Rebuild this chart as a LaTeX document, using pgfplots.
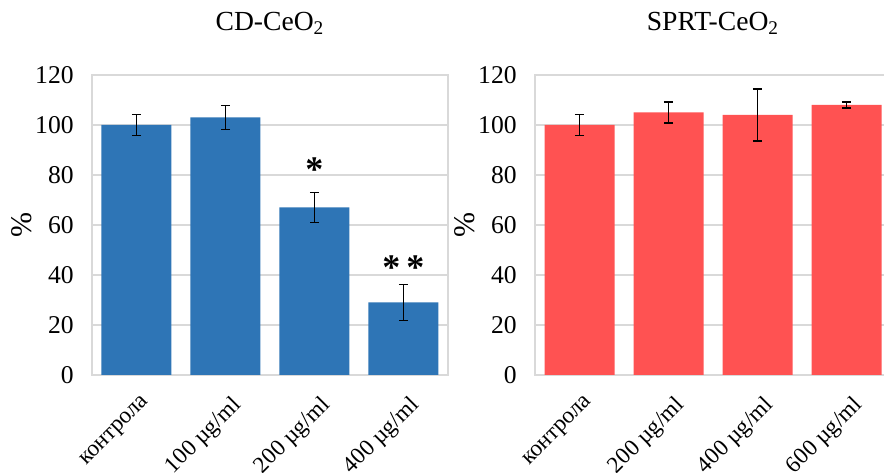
\documentclass[border=0pt]{standalone}
\usepackage{pgfplots}
\pgfplotsset{compat=1.18}
\usepackage{fontspec}
\setmainfont{Liberation Serif}
\definecolor{barblue}{RGB}{46,117,182}
\definecolor{barred}{RGB}{255,82,82}
\definecolor{gridgray}{RGB}{217,217,217}
\pgfplotsset{
  myaxis/.style={
    scale only axis,
    width=178bp, height=150bp,
    anchor=south west,
    ymin=0, ymax=120, ytick={0,20,...,120},
    xmin=-0.5, xmax=3.5,
    xtick={0,1,2,3},
    major tick length=0pt,
    ymajorgrids,
    grid style={draw=gridgray, line width=0.6bp},
    axis line style={draw=gridgray, line width=0.6bp},
    /pgf/number format/assume math mode=true,
    yticklabel={\pgfmathprintnumber[assume math mode=true]{\tick}},
    yticklabel style={font=\rmfamily\fontsize{12.8bp}{14bp}\selectfont, inner sep=0pt, xshift=-9bp},
    xticklabel style={font=\rmfamily\fontsize{11.6bp}{13bp}\selectfont, inner sep=0pt, xshift=2.5bp, yshift=-9.5bp, rotate=45, anchor=north east},
    ylabel={\%},
    ylabel style={at={(axis description cs:-0.197,0.5)}, anchor=center, font=\fontsize{15bp}{17bp}\selectfont},
    title style={at={(0.5,1)}, anchor=base, yshift=16.5bp, font=\fontsize{13.8bp}{16bp}\selectfont},
    ybar, bar width=35bp,
    error bars/error bar style={line width=0.7bp, black},
    error bars/error mark options={rotate=90, mark size=2.3bp, line width=0.7bp, black},
  }
}
\begin{document}
\begin{tikzpicture}
\useasboundingbox (0,0) rectangle (442bp,236.5bp);
\begin{axis}[myaxis, at={(46bp,49bp)},
  title={CD-CeO\textsubscript{2}},
  xticklabels={контрола,100 µg/ml,200 µg/ml,400 µg/ml}]
\addplot[fill=barblue, draw=none, error bars/.cd, y dir=both, y explicit]
  coordinates {(0,100) +- (0,4.3) (1,103) +- (0,4.7) (2,67) +- (0,6.1) (3,29) +- (0,7.3)};
\node[font=\fontsize{18bp}{18bp}\selectfont\bfseries] at (axis cs:2,82) {*};
\node[font=\fontsize{18bp}{18bp}\selectfont\bfseries] at (axis cs:3,43) {*\,*};
\end{axis}
\begin{axis}[myaxis, at={(267.5bp,49bp)},
  title={SPRT-CeO\textsubscript{2}},
  xticklabels={контрола,200 µg/ml,400 µg/ml,600 µg/ml}]
\addplot[fill=barred, draw=none, error bars/.cd, y dir=both, y explicit]
  coordinates {(0,100) +- (0,4.2) (1,105) +- (0,4.2) (2,104) +- (0,10.4) (3,108) +- (0,1.2)};
\end{axis}
\end{tikzpicture}
\end{document}
